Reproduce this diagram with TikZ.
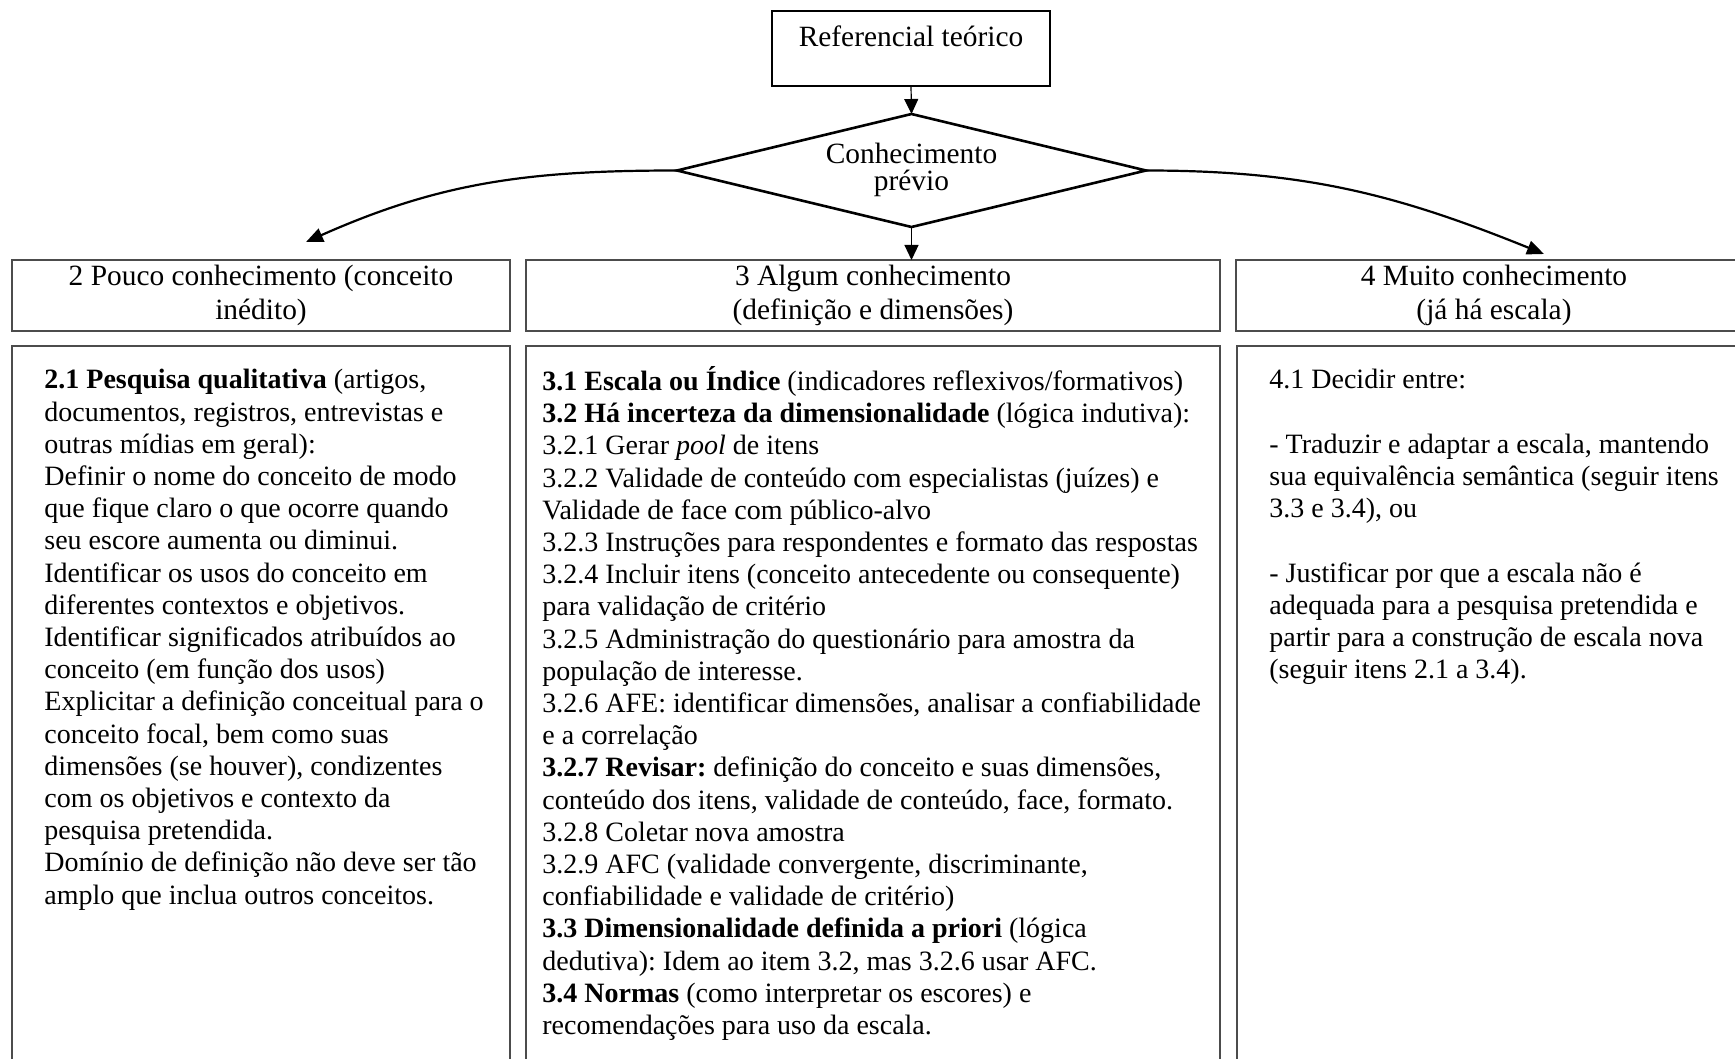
\documentclass[tikz,border=0pt]{standalone}
\usepackage{fontspec}
\setmainfont{Liberation Serif}
\usetikzlibrary{arrows.meta}
\begin{document}
\frenchspacing
\begin{tikzpicture}[x=0.5pt,y=0.5pt,
  framebox/.style={draw=black!70, line width=0.7pt, inner sep=0pt, outer sep=0pt, anchor=north west},
  bodytxt/.style={font=\fontsize{14}{16.1}\selectfont\frenchspacing, align=left, inner sep=0pt, anchor=north west},
  headtxt/.style={font=\fontsize{14.7}{17}\selectfont, align=center, inner sep=0pt},
  arr/.style={-{Triangle[length=7.5pt,width=7pt]}, line width=0.6pt},
  carr/.style={-{Triangle[length=8.5pt,width=7pt]}, line width=1.1pt}]
\useasboundingbox (0,0) rectangle (1735,-1059);
% top box
\node[framebox, draw=black, minimum width=139pt, minimum height=37.5pt] (ref) at (772,-11) {};
\node[font=\fontsize{14.7}{17}\selectfont, inner sep=0pt, anchor=base] (reft) at (911,-46.5) {Referencial teórico};
% decision
\coordinate (dN) at (911.5,-114);
\coordinate (dS) at (911.5,-227);
\coordinate (dW) at (677,-170.5);
\coordinate (dE) at (1146,-170.5);
\draw[line width=1.3pt, line join=miter] (dN) -- (dE) -- (dS) -- (dW) -- cycle;
\node[font=\fontsize{14.7}{13.3}\selectfont, align=center, inner sep=0pt] (dia) at (911.5,-170) {Conhecimento\\prévio};
% middle boxes
\node[framebox, minimum width=249pt, minimum height=35.5pt] (mid2) at (12,-260) {};
\node[headtxt] (mid2t) at (mid2.center) {2 Pouco conhecimento (conceito\\inédito)};
\node[framebox, minimum width=347pt, minimum height=35.5pt] (mid3) at (526,-260) {};
\node[headtxt] (mid3t) at (mid3.center) {3 Algum conhecimento\\(definição e dimensões)};
\node[framebox, minimum width=255pt, minimum height=35.5pt] (mid4) at (1236,-260) {};
\node[headtxt] (mid4t) at (1494,-295.5) {4 Muito conhecimento\\(já há escala)};
% lower boxes
\node[framebox, minimum width=249pt, minimum height=362pt] (low2) at (12,-346) {};
\node[framebox, minimum width=347pt, minimum height=362pt] (low3) at (526,-346) {};
\node[framebox, minimum width=255pt, minimum height=362pt] (low4) at (1237,-346) {};
\node[bodytxt] (t2txt) at (44,-366) {\strut\textbf{2.1 Pesquisa qualitativa} (artigos,\\
documentos, registros, entrevistas e\\
outras mídias em geral):\\
Definir o nome do conceito de modo\\
que fique claro o que ocorre quando\\
seu escore aumenta ou diminui.\\
Identificar os usos do conceito em\\
diferentes contextos e objetivos.\\
Identificar significados atribuídos ao\\
conceito (em função dos usos)\\
Explicitar a definição conceitual para o\\
conceito focal, bem como suas\\
dimensões (se houver), condizentes\\
com os objetivos e contexto da\\
pesquisa pretendida.\\
Domínio de definição não deve ser tão\\
amplo que inclua outros conceitos.};
\node[bodytxt] (t3txt) at (542,-366) {\strut\textbf{3.1 Escala ou Índice} (indicadores reflexivos/formativos)\\
\textbf{3.2 Há incerteza da dimensionalidade} (lógica indutiva):\\
3.2.1 Gerar \textit{pool} de itens\\
3.2.2 Validade de conteúdo com especialistas (juízes) e\\
Validade de face com público-alvo\\
3.2.3 Instruções para respondentes e formato das respostas\\
3.2.4 Incluir itens (conceito antecedente ou consequente)\\
para validação de critério\\
3.2.5 Administração do questionário para amostra da\\
população de interesse.\\
3.2.6 AFE: identificar dimensões, analisar a confiabilidade\\
e a correlação\\
\textbf{3.2.7 Revisar:} definição do conceito e suas dimensões,\\
conteúdo dos itens, validade de conteúdo, face, formato.\\
3.2.8 Coletar nova amostra\\
3.2.9 AFC (validade convergente, discriminante,\\
confiabilidade e validade de critério)\\
\textbf{3.3 Dimensionalidade definida a priori} (lógica\\
dedutiva): Idem ao item 3.2, mas 3.2.6 usar AFC.\\
\textbf{3.4 Normas} (como interpretar os escores) e\\
recomendações para uso da escala.};
\node[bodytxt] (t4txt) at (1269,-366) {\strut 4.1 Decidir entre:\\
\strut\\
- Traduzir e adaptar a escala, mantendo\\
sua equivalência semântica (seguir itens\\
3.3 e 3.4), ou\\
\strut\\
- Justificar por que a escala não é\\
adequada para a pesquisa pretendida e\\
partir para a construção de escala nova\\
(seguir itens 2.1 a 3.4).};
% connectors
\coordinate (tip2) at (306,-242);
\coordinate (tip4) at (1544,-254);
\draw[arr] (ref.south) -- (dN);
\draw[arr] (dS) -- (dS |- mid3.north);
\draw[carr] (dW) to[out=180,in=24] (tip2);
\draw[carr] (dE) to[out=0,in=158] (tip4);
\end{tikzpicture}
\end{document}
